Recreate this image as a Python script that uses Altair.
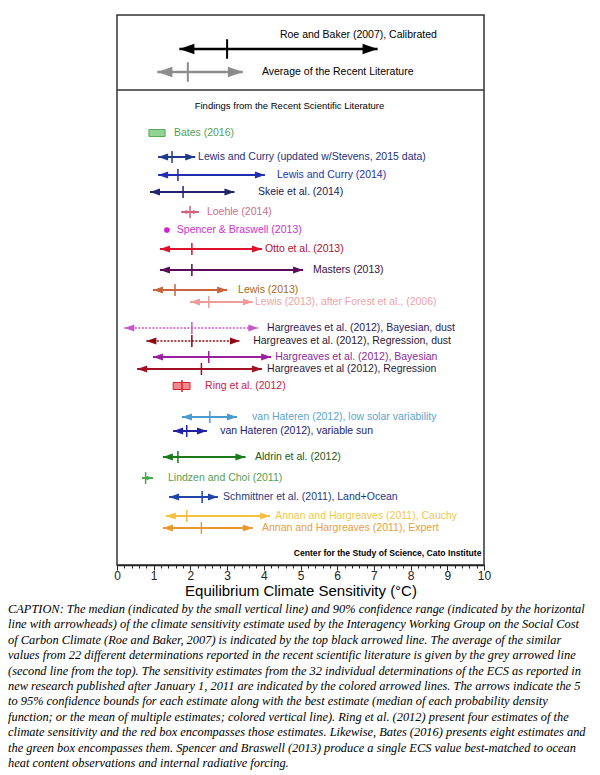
import altair as alt
import pandas as pd

# ---------------- data ----------------
# reference rows (top panel)
ref_names = ["Roe and Baker (2007), Calibrated", "Average of the Recent Literature"]
ref_low = [1.70, 1.10]
ref_med = [3.00, 1.93]
ref_high = [7.10, 3.43]
ref_row = [34, 57]
ref_label_row = [20, 57]
ref_label_x = [4.44, 3.95]
ref_line = ["#000000", "#8c8c8c"]
ref_label_col = ["#000000", "#000000"]

# findings from the recent literature
names = [
    "Bates  (2016)",
    "Lewis and Curry (updated w/Stevens, 2015 data)",
    "Lewis and Curry (2014)",
    "Skeie et al. (2014)",
    "Loehle (2014)",
    "Spencer & Braswell (2013)",
    "Otto et al. (2013)",
    "Masters (2013)",
    "Lewis (2013)",
    "Lewis (2013), after Forest et al., (2006)",
    "Hargreaves et al. (2012), Bayesian, dust",
    "Hargreaves et al. (2012), Regression, dust",
    "Hargreaves et al. (2012), Bayesian",
    "Hargreaves et al (2012), Regression",
    "Ring et al. (2012)",
    "van Hateren (2012), low solar variability",
    "van Hateren (2012), variable sun",
    "Aldrin et al. (2012)",
    "Lindzen and Choi  (2011)",
    "Schmittner et al.  (2011), Land+Ocean",
    "Annan and Hargreaves (2011), Cauchy",
    "Annan and Hargreaves (2011), Expert",
]
kind = ["box", "arrow", "arrow", "arrow", "arrow", "dot", "arrow", "arrow", "arrow", "arrow",
        "arrow", "arrow", "arrow", "arrow", "box", "arrow", "arrow", "arrow", "arrow", "arrow",
        "arrow", "arrow"]
dotted = [False] * 10 + [True, True] + [False] * 10
low = [0.87, 1.12, 1.12, 0.90, 1.75, None, 1.17, 1.17, 0.98, 1.99,
       0.20, 0.80, 0.98, 0.55, 1.53, 1.77, 1.53, 1.25, 0.68, 1.42, 1.33, 1.25]
med = [None, 1.50, 1.66, 1.80, 1.99, 1.36, 2.04, 2.04, 1.58, 2.50,
       2.04, 2.04, 2.50, 2.30, 1.77, 2.53, 1.90, 1.66, 0.78, 2.32, 1.90, 2.30]
high = [1.31, 2.13, 4.03, 3.20, 2.23, None, 3.95, 5.07, 3.00, 3.70,
        3.85, 3.35, 4.20, 3.95, 1.99, 3.27, 2.45, 3.50, 0.98, 2.75, 4.17, 3.70]
row = [118, 142, 160, 177, 197, 215, 234, 255, 275, 287,
       313, 326, 342, 354, 371, 402, 416, 442, 463, 482, 501, 513]
label_x = [1.55, 2.21, 4.36, 3.84, 2.45, 1.63, 4.03, 5.34, 3.30, 3.76,
           4.09, 3.71, 4.31, 4.09, 2.40, 3.68, 2.81, 3.76, 1.39, 2.89, 4.31, 3.95]
line_col = ["#55aa55", "#1f3a8c", "#1f2fb0", "#22226e", "#d4607a", "#d020d0", "#e0102c",
            "#5a0a5a", "#c8643c", "#f09a9a", "#cc55cc", "#8a0a14", "#9a20a0", "#a01020",
            "#dd2030", "#4a9ad0", "#2020a0", "#1a7a1a", "#44aa44", "#1f44aa", "#f5c040",
            "#e89a30"]
fill_col = ["#93d393"] + ["none"] * 13 + ["#f28a8a"] + ["none"] * 7
label_col = ["#55a055", "#1f2f7a", "#2233aa", "#1a1a55", "#c8708a", "#cc33cc", "#b01030",
             "#3a1040", "#a86a20", "#eea4a4", "#2a2060", "#2a1830", "#8a2a9a", "#2a1a40",
             "#cc2040", "#5aa5d0", "#1a1a70", "#1a5a1a", "#55a055", "#1a3a8a", "#f0c850",
             "#e8a040"]

findings_title = "Findings from the Recent Scientific Literature"
credit = "Center for the Study of Science, Cato Institute"
major_ticks = list(range(11))
minor_ticks = [round(i * 0.2, 1) for i in range(51)]

caption = (
    "CAPTION: The median (indicated by the small vertical line) and 90% confidence range (indicated by the horizontal\n"
    "line with arrowheads) of the climate sensitivity estimate used by the Interagency Working Group on the Social Cost\n"
    "of Carbon Climate (Roe and Baker, 2007) is indicated by the top black arrowed line. The average of the similar\n"
    "values from 22 different determinations reported in the recent scientific literature is given by the grey arrowed line\n"
    "(second line from the top). The sensitivity estimates from the 32 individual determinations of the ECS as reported in\n"
    "new research published after January 1, 2011 are indicated by the colored arrowed lines. The arrows indicate the 5\n"
    "to 95% confidence bounds for each estimate along with the best estimate (median of each probability density\n"
    "function; or the mean of multiple estimates; colored vertical line). Ring et al. (2012) present four estimates of the\n"
    "climate sensitivity and the red box encompasses those estimates. Likewise, Bates (2016) presents eight estimates and\n"
    "the green box encompasses them. Spencer and Braswell (2013) produce a single ECS value best-matched to ocean\n"
    "heat content observations and internal radiative forcing."
)

# ---------------- tables ----------------
ref_df = pd.DataFrame(dict(name=ref_names, low=ref_low, med=ref_med, high=ref_high, row=ref_row,
                           label_row=ref_label_row, label_x=ref_label_x, line=ref_line,
                           label_col=ref_label_col))
ref_df["kind"] = "arrow"
ref_df["dotted"] = False
ref_df["fill"] = "none"
ref_df["asize"] = 225

lit_df = pd.DataFrame(dict(name=names, low=low, med=med, high=high, row=row, label_row=row,
                           label_x=label_x, line=line_col, label_col=label_col, kind=kind,
                           dotted=dotted, fill=fill_col))
lit_df["asize"] = [100 if (h is not None and l is not None and h - l > 0.6) else 36
                   for l, h in zip(low, high)]

FONT = "Liberation Sans"
x_scale = alt.Scale(domain=[0, 10], nice=False, zero=False, padding=0)
y_scale = alt.Scale(domain=[0, 550], reverse=True, nice=False, zero=False, padding=0)

major_axis = alt.Axis(
    orient="bottom",
    values=major_ticks, format="d", tickSize=5, grid=False, labelFlush=False, labelOverlap=False,
    title="Equilibrium Climate Sensitivity (°C)",
    labelFont=FONT, labelFontSize=12, labelColor="#222222", labelPadding=0,
    titleFont=FONT, titleFontSize=15, titleFontWeight="normal", titleColor="#000000",
    titlePadding=2, domainColor="#222222", domainWidth=1.5, tickColor="#222222", tickWidth=1,
)
minor_axis = alt.Axis(
    orient="bottom",
    values=minor_ticks, tickSize=3, labels=False, domain=False, grid=False, title=None,
    tickColor="#222222", tickWidth=1,
)


def X(field, axis=None):
    return alt.X(f"{field}:Q", scale=x_scale, axis=axis)


def Y(field):
    return alt.Y(f"{field}:Q", scale=y_scale, axis=None)


LEFT = "M0,0L2,-0.7L2,0.7Z"
RIGHT = "M0,0L-2,-0.7L-2,0.7Z"
TICK = "M0,-1L0,1"


def group_layers(df, line_w, tick_size, tick_w, label_size):
    base = alt.Chart(df)
    arrows = base.transform_filter(alt.datum.kind == "arrow")
    col = alt.Color("line:N", scale=None, legend=None)
    solid = arrows.transform_filter(alt.datum.dotted == False).mark_rule(
        strokeWidth=line_w).encode(x=X("low"), x2="high", y=Y("row"), color=col)
    dots = arrows.transform_filter(alt.datum.dotted == True).mark_rule(
        strokeWidth=1.5, strokeDash=[2, 1.5]).encode(x=X("low"), x2="high", y=Y("row"), color=col)
    la = arrows.mark_point(shape=LEFT, filled=True, opacity=1).encode(
        x=X("low"), y=Y("row"), color=col, size=alt.Size("asize:Q", scale=None, legend=None))
    ra = arrows.mark_point(shape=RIGHT, filled=True, opacity=1).encode(
        x=X("high"), y=Y("row"), color=col, size=alt.Size("asize:Q", scale=None, legend=None))
    boxes = base.transform_filter(alt.datum.kind == "box").mark_bar(size=7, strokeWidth=1).encode(
        x=X("low"), x2="high", y=Y("row"),
        fill=alt.Fill("fill:N", scale=None, legend=None),
        stroke=alt.Stroke("line:N", scale=None, legend=None))
    ticks = base.transform_filter("isValid(datum.med) && datum.kind != 'dot'").mark_point(
        shape=TICK, filled=False, size=tick_size, strokeWidth=tick_w, opacity=1).encode(
        x=X("med"), y=Y("row"), color=col)
    pts = base.transform_filter(alt.datum.kind == "dot").mark_circle(size=32, opacity=1).encode(
        x=X("med"), y=Y("row"), color=col)
    labels = base.mark_text(align="left", baseline="middle", font=FONT, fontSize=label_size).encode(
        x=X("label_x"), y=Y("label_row"), text="name:N",
        color=alt.Color("label_col:N", scale=None, legend=None))
    return [solid, dots, boxes, la, ra, ticks, pts, labels]


ref_layers = group_layers(ref_df, 2.5, 380, 2, 10.5)
lit_layers = group_layers(lit_df, 2, 144, 1.5, 10.5)

divider = alt.Chart(pd.DataFrame({"row": [75]})).mark_rule(color="#333333", strokeWidth=1.5).encode(
    y=Y("row"))
title_txt = alt.Chart(pd.DataFrame({"x": [4.7], "row": [91], "t": [findings_title]})).mark_text(
    align="center", baseline="middle", font=FONT, fontSize=9.5, color="#000000").encode(
    x=X("x", major_axis), y=Y("row"), text="t:N")
credit_txt = alt.Chart(pd.DataFrame({"x": [9.93], "row": [538], "t": [credit]})).mark_text(
    align="right", baseline="middle", font=FONT, fontSize=8.6, color="#000000", fontWeight="bold").encode(
    x=X("x", minor_axis), y=Y("row"), text="t:N")
caption_txt = alt.Chart(pd.DataFrame({"t": [caption]})).mark_text(
    align="left", baseline="top", lineBreak="\n", font="Liberation Serif", fontStyle="italic",
    fontSize=12.4, lineHeight=15.4, color="#000000").encode(
    x=alt.value(-109), y=alt.value(588), text="t:N")

chart = alt.layer(divider, *ref_layers, *lit_layers, title_txt, credit_txt, caption_txt).resolve_axis(
    x="independent"
).properties(
    width=367, height=550,
    autosize=alt.AutoSizeParams(type="none"),
    padding={"left": 109, "top": 7, "right": 108, "bottom": 208},
).configure_view(stroke="#333333", strokeWidth=1.5)

chart.save("out.html", embed_options={"renderer": "svg", "actions": False})
